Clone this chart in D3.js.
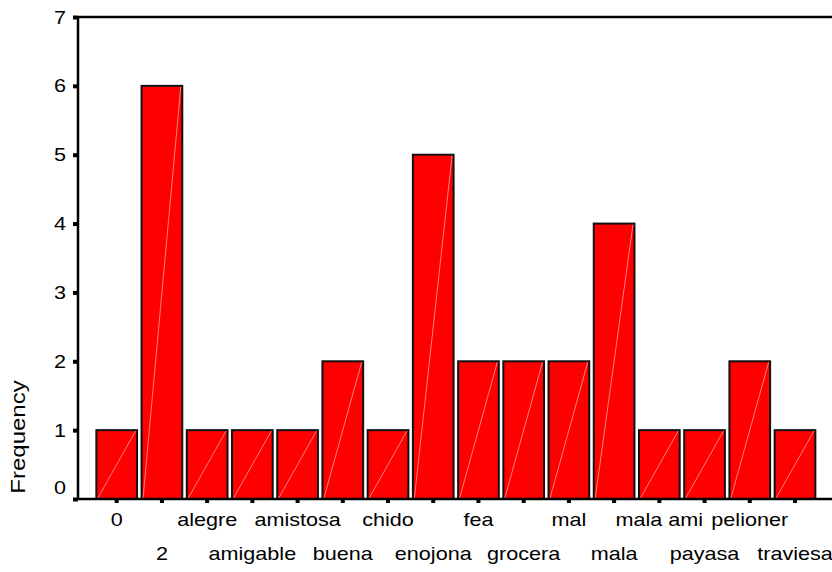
<!DOCTYPE html>
<html>
<head>
<meta charset="utf-8">
<script src="https://cdn.jsdelivr.net/npm/d3@7"></script>
<style>
  html, body { margin: 0; padding: 0; background: #fff; }
  svg { display: block; }
  text { font-family: "Liberation Sans", Arial, sans-serif; fill: #000; }
</style>
</head>
<body>
<svg id="chart" width="832" height="572"></svg>
<script>
const categories = ["0", "2", "alegre", "amigable", "amistosa", "buena", "chido", "enojona",
                    "fea", "grocera", "mal", "mala", "mala ami", "payasa", "pelioner", "traviesa"];
const frequencies = [1, 6, 1, 1, 1, 2, 1, 5, 2, 2, 2, 4, 1, 1, 2, 1];
const yTicks = [0, 1, 2, 3, 4, 5, 6, 7];
const yTitle = "Frequency";

const svg = d3.select("#chart");
const mLeft = 78, mTop = 17, mBottom = 499, mRight = 832;
const SX = 1.2;

const x = d3.scaleBand().domain(categories).range([94.1, 817.6]).paddingInner(0.1).paddingOuter(0.05);
const y = d3.scaleLinear().domain([0, 7]).range([mBottom, mTop]);

// bars
const bars = svg.append("g");
categories.forEach((c, i) => {
  const x0 = x(c), w = x.bandwidth(), yt = y(frequencies[i]);
  bars.append("rect")
    .attr("x", x0).attr("y", yt)
    .attr("width", w).attr("height", y(0) - yt)
    .attr("fill", "#ff0000").attr("stroke", "#111").attr("stroke-width", 2);
  bars.append("line")
    .attr("x1", x0 + 1.5).attr("y1", y(0) - 1)
    .attr("x2", x0 + w - 1.5).attr("y2", yt + 1)
    .attr("stroke", "rgba(255,200,200,0.8)").attr("stroke-width", 0.8);
});

// top border
svg.append("line").attr("x1", mLeft).attr("x2", mRight).attr("y1", mTop).attr("y2", mTop)
  .attr("stroke", "#000").attr("stroke-width", 2.5);

// y axis
const yAxis = d3.axisLeft(y).tickValues(yTicks).tickFormat(d3.format("d")).tickSize(5).tickPadding(0);
const gy = svg.append("g").attr("transform", `translate(${mLeft},0)`).call(yAxis);
gy.select(".domain").remove();
gy.selectAll(".tick line").attr("stroke", "#000").attr("stroke-width", 4);
gy.selectAll(".tick text")
  .attr("font-size", 18)
  .attr("x", -12 / SX)
  .attr("dy", "0.34em")
  .attr("y", d => d === 0 ? -11.5 : 0)
  .attr("transform", `scale(${SX},1)`)
  .attr("text-anchor", "end")
  .style("font-family", "Liberation Sans, Arial, sans-serif");
svg.append("line").attr("x1", mLeft).attr("x2", mLeft).attr("y1", mTop - 1).attr("y2", mBottom + 1)
  .attr("stroke", "#000").attr("stroke-width", 2.5);

// x axis
const xAxis = d3.axisBottom(x).tickSize(4).tickPadding(0);
const gx = svg.append("g").attr("transform", `translate(0,${mBottom})`).call(xAxis);
gx.select(".domain").remove();
gx.selectAll(".tick line").attr("stroke", "#000").attr("stroke-width", 4);
gx.selectAll(".tick text")
  .attr("font-size", 18)
  .attr("dy", null)
  .attr("y", (d, i) => i % 2 === 0 ? 27.5 : 61)
  .attr("x", 0)
  .attr("transform", `scale(${SX},1)`)
  .attr("text-anchor", "middle")
  .style("font-family", "Liberation Sans, Arial, sans-serif");
svg.append("line").attr("x1", mLeft - 1).attr("x2", mRight).attr("y1", mBottom).attr("y2", mBottom)
  .attr("stroke", "#000").attr("stroke-width", 2.5);

// y title
svg.append("text")
  .attr("transform", `translate(24.5,437) rotate(-90) scale(${SX},1)`)
  .attr("text-anchor", "middle")
  .attr("font-size", 20)
  .text(yTitle);
</script>
</body>
</html>
